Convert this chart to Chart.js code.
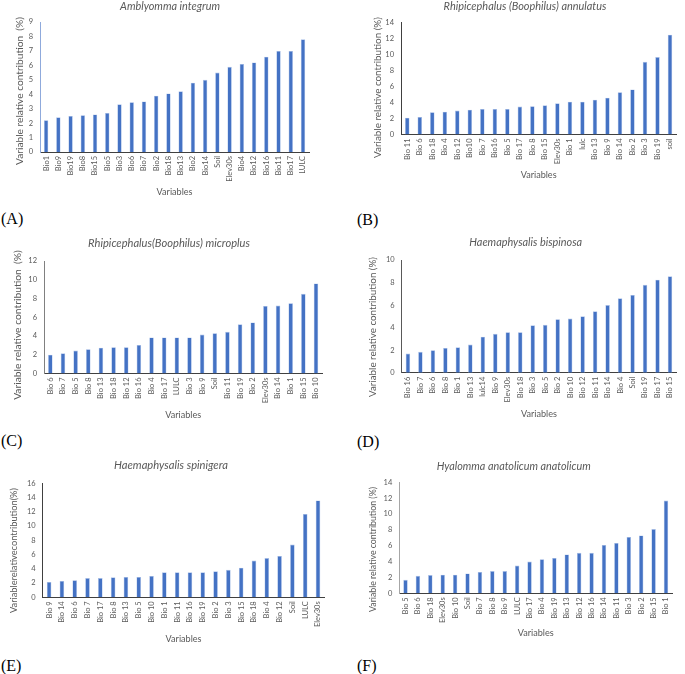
<!DOCTYPE html>
<html>
<head>
<meta charset="utf-8">
<script src="https://cdn.jsdelivr.net/npm/chart.js@4.4.1/dist/chart.umd.min.js"></script>
<style>
  body { margin: 0; width: 685px; height: 674px; background: #fff; overflow: hidden; position: relative; }
  canvas { position: absolute; }
  .tag { position: absolute; font-family: "Liberation Serif", serif; font-size: 16px; color: #000; line-height: 16px; }
</style>
</head>
<body>
<div class="tag" style="left:1px; top:211px">(A)</div>
<div class="tag" style="left:357px; top:212px">(B)</div>
<div class="tag" style="left:1px; top:433px">(C)</div>
<div class="tag" style="left:357px; top:434px">(D)</div>
<div class="tag" style="left:1px; top:658px">(E)</div>
<div class="tag" style="left:357px; top:658px">(F)</div>
<script>
const labelsA = ['Bio1','Bio9','Bio19','Bio8','Bio15','Bio5','Bio3','Bio6','Bio7','Bio2','Bio18','Bio13','Bio2','Bio14','Soil','Elev30s','Bio4','Bio12','Bio16','Bio11','Bio17','LULC'];
const valuesA = [2.2,2.4,2.5,2.55,2.6,2.7,3.3,3.45,3.5,3.9,4.05,4.2,4.8,5.0,5.5,5.9,6.1,6.2,6.6,7.0,7.0,7.8];

const labelsB = ['Bio 11','Bio 6','Bio 18','Bio 4','Bio 12','Bio10','Bio 7','Bio16','Bio 5','Bio 17','Bio 8','Bio 15','Elev30s','Bio 1','lulc','Bio 13','Bio 9','Bio 14','Bio 2','Bio 3','Bio 19','soil'];
const valuesB = [2.1,2.2,2.8,2.85,3.0,3.1,3.2,3.2,3.2,3.5,3.55,3.65,3.9,4.1,4.1,4.35,4.6,5.3,5.65,9.1,9.7,12.5];

const labelsC = ['Bio 6','Bio 7','Bio 5','Bio 8','Bio 13','Bio 18','Bio 12','Bio 16','Bio 4','Bio 17','LULC','Bio 3','Bio 9','Soil','Bio 11','Bio 19','Bio 2','Elev30s','Bio 14','Bio 1','Bio 15','Bio 10'];
const valuesC = [2.0,2.15,2.45,2.6,2.75,2.8,2.8,3.05,3.85,3.85,3.85,3.85,4.15,4.3,4.45,5.25,5.45,7.2,7.25,7.5,8.5,9.6];

const labelsD = ['Bio 16','Bio 7','Bio 6','Bio 8','Bio 1','Bio 13','lulc14','Bio 9','Elev30s','Bio 18','Bio 3','Bio 5','Bio 2','Bio 10','Bio 12','Bio 11','Bio 14','Bio 4','Soil','Bio 19','Bio 17','Bio 15'];
const valuesD = [1.7,1.85,2.0,2.2,2.25,2.5,3.2,3.45,3.6,3.6,4.2,4.25,4.75,4.8,5.0,5.45,6.0,6.6,6.9,7.8,8.25,8.55];

const labelsE = ['Bio 9','Bio 14','Bio 6','Bio 7','Bio 17','Bio 8','Bio 13','Bio 5','Bio 10','Bio 1','Bio 11','Bio 16','Bio 19','Bio 2','Bio 3','Bio 15','Bio 18','Bio 4','Bio 12','Soil','LULC','Elev30s'];
const valuesE = [2.15,2.3,2.4,2.7,2.7,2.8,2.85,2.85,3.0,3.5,3.5,3.5,3.5,3.65,3.85,4.15,5.15,5.5,5.8,7.4,11.7,13.6];

const labelsF = ['Bio 5','Bio 6','Bio 18','Elev30s','Bio 10','Soil','Bio 7','Bio 8','Bio 9','LULC','Bio 17','Bio 4','Bio 19','Bio 13','Bio 12','Bio 16','Bio 14','Bio 11','Bio 3','Bio 2','Bio 15','Bio 1'];
const valuesF = [1.7,2.2,2.3,2.35,2.35,2.5,2.7,2.8,2.8,3.5,4.0,4.3,4.45,4.9,5.1,5.1,6.1,6.35,7.1,7.3,8.1,11.7];

const FONT = 'Lato';
const BLUE = '#4472C4';

// page geometry of every panel (plot box, title centres, text lengths)
const panels = [
  { title: 'Amblyomma integrum', titleW: 100, labels: labelsA, values: valuesA, max: 9, step: 1,
    yTitle: 'Variable relative contribution  (%)', yTitleW: 148, yTitleY: 91, yAxisColor: '#8faadc',
    base: 0, titleX: 170, titleY: 6, axisX: 40, plotTop: 22, plotBottom: 152, plotRight: 316, yTitleX: 20, xTitleY: 192 },
  { title: 'Rhipicephalus (Boophilus) annulatus', titleW: 163, labels: labelsB, values: valuesB, max: 14, step: 2,
    yTitle: 'Variable relative contribution (%)', yTitleW: 141, yTitleY: 87.5, yAxisColor: '#404040',
    base: 340, titleX: 525, titleY: 6, axisX: 401, plotTop: 22.7, plotBottom: 134.5, plotRight: 683, yTitleX: 378, xTitleY: 175 },
  { title: 'Rhipicephalus(Boophilus) microplus', titleW: 162, labels: labelsC, values: valuesC, max: 12, step: 2,
    yTitle: 'Variable relative contribution  (%)', yTitleW: 150, yTitleY: 325, yAxisColor: '#808080',
    base: 0, titleX: 169, titleY: 243, axisX: 44, plotTop: 261, plotBottom: 373.5, plotRight: 329, yTitleX: 17.5, xTitleY: 415 },
  { title: 'Haemaphysalis bispinosa', titleW: 113, labels: labelsD, values: valuesD, max: 10, step: 1,
    yTitle: 'Variable relative contribution (%)', yTitleW: 140, yTitleY: 327, yAxisColor: '#595959',
    base: 340, titleX: 525.7, titleY: 242.5, axisX: 401.7, plotTop: 260, plotBottom: 372.7, plotRight: 683, yTitleX: 373, xTitleY: 414 },
  { title: 'Haemaphysalis spinigera', titleW: 114, labels: labelsE, values: valuesE, max: 16, step: 2,
    yTitle: 'Variablerelativecontribution(%)', yTitleW: 125, yTitleY: 550.5, yAxisColor: '#404040',
    base: 0, titleX: 171, titleY: 465.5, axisX: 42.7, plotTop: 483.3, plotBottom: 597.3, plotRight: 331, yTitleX: 14.5, xTitleY: 639 },
  { title: 'Hyalomma anatolicum anatolicum', titleW: 154, labels: labelsF, values: valuesF, max: 14, step: 2,
    yTitle: 'Variable relative contribution (%)', yTitleW: 125, yTitleY: 549.5, yAxisColor: '#a6a6a6',
    base: 340, titleX: 513.7, titleY: 466.5, axisX: 399.3, plotTop: 482.3, plotBottom: 593.3, plotRight: 679, yTitleX: 373, xTitleY: 633 }
];

const measureCtx = document.createElement('canvas').getContext('2d');
function fitSize(text, style, width) {
  measureCtx.font = style + ' 20px ' + FONT;
  return 20 * width / measureCtx.measureText(text).width;
}

// y axis title, drawn where the figure has it (a bit below the axis middle)
const yTitlePlugin = {
  id: 'yTitle',
  afterDraw(chart, args, o) {
    const ctx = chart.ctx;
    ctx.save();
    ctx.translate(o.x, o.y);
    ctx.rotate(-Math.PI / 2);
    ctx.font = o.size + 'px ' + FONT;
    ctx.fillStyle = '#595959';
    ctx.textAlign = 'center';
    ctx.textBaseline = 'middle';
    ctx.fillText(o.text, 0, 0);
    ctx.restore();
  }
};

function drawPanel(p) {
  const titleSize = fitSize(p.title, 'italic', p.titleW);
  const xSize = fitSize('Variables', 'normal', 36);
  const ySize = fitSize(p.yTitle, 'normal', p.yTitleW);
  const lhT = titleSize * 1.2, lhX = xSize * 1.2;
  const scaleLeft = 2 * p.titleX - p.plotRight; // keeps the title centred where it is in the figure
  const top = Math.floor(p.titleY - lhT / 2 - 1);
  const bottom = Math.ceil(p.xTitleY + lhX / 2 + 1);
  const cv = document.createElement('canvas');
  cv.width = p.plotRight - p.base;
  cv.height = bottom - top;
  cv.style.left = p.base + 'px';
  cv.style.top = top + 'px';
  document.body.appendChild(cv);

  const padTop = p.titleY - lhT / 2 - top;
  new Chart(cv, {
    type: 'bar',
    data: {
      labels: p.labels,
      datasets: [{
        data: p.values,
        backgroundColor: BLUE,
        borderColor: '#a9c0e8',
        borderWidth: { left: 0.6, right: 0.6, top: 0.6, bottom: 0 },
        barPercentage: 0.36,
        categoryPercentage: 1
      }]
    },
    plugins: [yTitlePlugin],
    options: {
      responsive: false,
      animation: false,
      layout: { padding: { left: scaleLeft - p.base, right: 0, top: 0, bottom: 0 } },
      plugins: {
        legend: { display: false },
        tooltip: { enabled: false },
        title: {
          display: true,
          text: p.title,
          color: '#595959',
          font: { family: FONT, size: titleSize, style: 'italic', weight: 'normal' },
          padding: { top: padTop, bottom: p.plotTop - top - padTop - lhT }
        },
        yTitle: { text: p.yTitle, size: ySize, x: p.yTitleX - p.base, y: p.yTitleY - top }
      },
      scales: {
        x: {
          grid: { display: false, drawTicks: false },
          border: { display: true, color: '#404040', width: 1 },
          ticks: {
            autoSkip: false, maxRotation: 90, minRotation: 90, padding: 4,
            color: '#595959', font: { family: FONT, size: 7.5 }
          },
          title: {
            display: true, text: 'Variables', color: '#595959',
            font: { family: FONT, size: xSize }, padding: { top: 0, bottom: 1 }
          },
          afterFit: (s) => { s.height = bottom - p.plotBottom; }
        },
        y: {
          min: 0, max: p.max,
          grid: { display: false, drawTicks: false },
          border: { display: true, color: p.yAxisColor, width: 1 },
          ticks: { stepSize: p.step, padding: 7, color: '#595959', font: { family: FONT, size: 7.5 } },
          afterFit: (s) => { s.width = p.axisX - scaleLeft; }
        }
      }
    }
  });
}

panels.forEach(drawPanel);
</script>
</body>
</html>
